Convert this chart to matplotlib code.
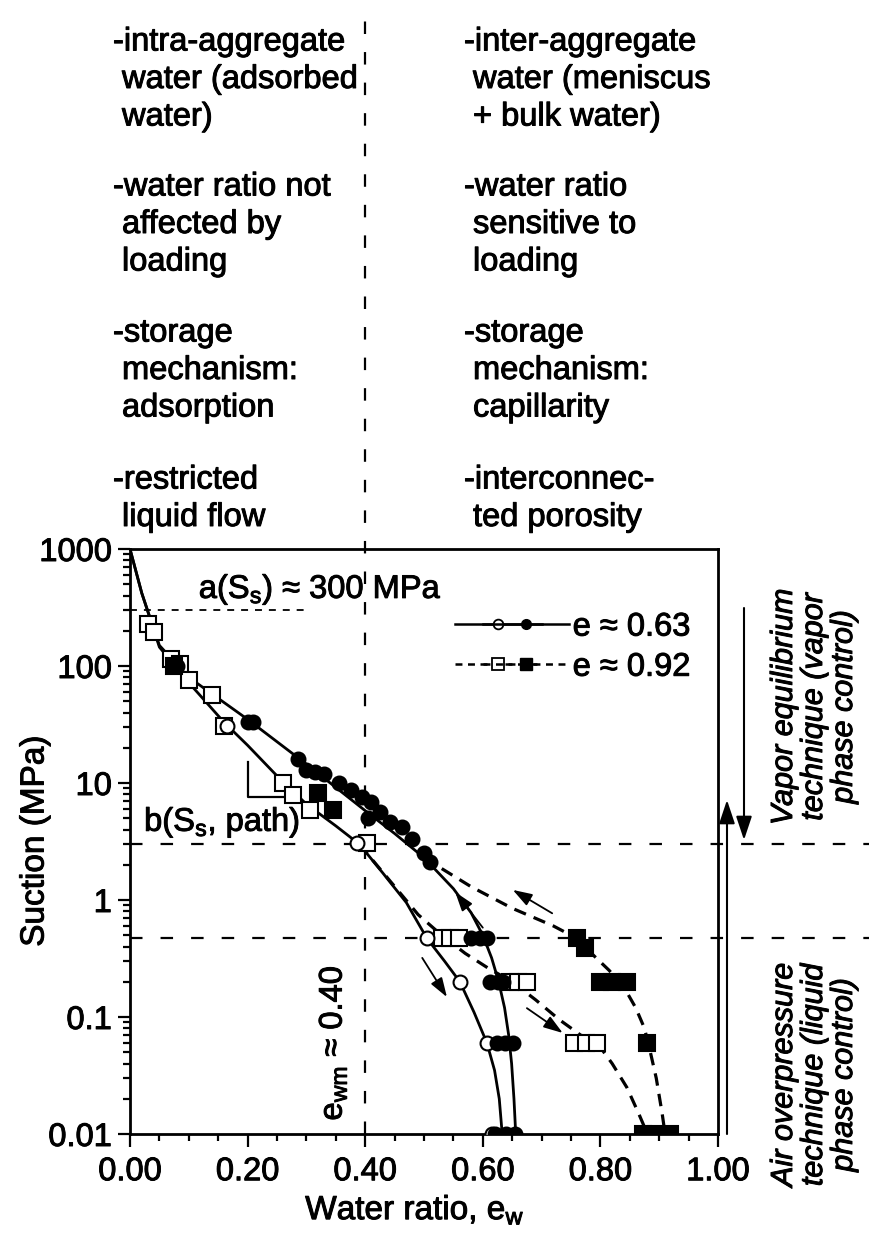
import matplotlib
matplotlib.use("Agg")
import matplotlib.pyplot as plt
import matplotlib.patheffects as pe
from matplotlib.lines import Line2D
from matplotlib.legend_handler import HandlerTuple
from matplotlib.ticker import MultipleLocator, LogLocator, NullFormatter

plt.rcParams['font.family'] = ['Liberation Sans', 'DejaVu Sans']
plt.rcParams['mathtext.fontset'] = 'custom'
plt.rcParams['mathtext.rm'] = 'Liberation Sans'
plt.rcParams['mathtext.it'] = 'Liberation Sans:italic'
plt.rcParams['lines.scale_dashes'] = False

# measured points, e ~ 0.63 (circles) and e ~ 0.92 (squares)
ew_063_dry = [0.08, 0.20, 0.21, 0.285, 0.30, 0.315, 0.33, 0.355, 0.375, 0.395, 0.41,
              0.405, 0.425, 0.443, 0.463, 0.48, 0.50, 0.51,
              0.58, 0.595, 0.607, 0.612, 0.625, 0.634, 0.624, 0.637, 0.651, 0.62, 0.64, 0.655]
s_063_dry = [100, 33, 33, 16, 13, 12.5, 12, 10, 8.7, 7.6, 6.9,
             5.0, 5.6, 4.6, 4.2, 3.3, 2.5, 2.1,
             0.47, 0.47, 0.47, 0.2, 0.2, 0.2, 0.06, 0.06, 0.06, 0.01, 0.01, 0.01]
ew_063_wet = [0.165, 0.386, 0.505, 0.561, 0.607, 0.615]
s_063_wet = [31, 3.1, 0.47, 0.2, 0.06, 0.01]
ew_092_wet = [0.03, 0.04, 0.07, 0.085, 0.10, 0.14, 0.16, 0.26, 0.277, 0.306, 0.403,
              0.53, 0.545, 0.56, 0.646, 0.66, 0.675, 0.755, 0.775, 0.795]
s_092_wet = [230, 195, 115, 105, 76, 57, 31, 10, 7.9, 5.9, 3.1,
             0.47, 0.47, 0.47, 0.2, 0.2, 0.2, 0.06, 0.06, 0.06]
ew_092_dry = [0.075, 0.32, 0.345, 0.76, 0.774, 0.80, 0.82, 0.845, 0.88, 0.872, 0.895, 0.918]
s_092_dry = [100, 8.2, 5.9, 0.47, 0.39, 0.2, 0.2, 0.2, 0.06, 0.01, 0.01, 0.01]

# model curves
ew_fit_063_dry = [0.0, 0.02, 0.05, 0.10, 0.20, 0.30, 0.40, 0.45, 0.50, 0.55, 0.58, 0.60,
                  0.615, 0.627, 0.637, 0.644, 0.649, 0.653, 0.656]
s_fit_063_dry = [1000, 420, 150, 80, 35, 14.5, 5.8, 3.7, 2.3, 1.25, 0.78, 0.5,
                 0.32, 0.2, 0.12, 0.07, 0.04, 0.02, 0.01]
ew_fit_063_wet = [0.0, 0.02, 0.05, 0.10, 0.16, 0.20, 0.25, 0.30, 0.35, 0.39, 0.43, 0.47,
                  0.505, 0.535, 0.561, 0.585, 0.607, 0.62, 0.628, 0.633]
s_fit_063_wet = [1000, 420, 145, 72, 33, 21, 11.5, 6.6, 4.3, 3.0, 1.7, 0.95,
                 0.47, 0.3, 0.2, 0.11, 0.06, 0.035, 0.02, 0.01]
ew_fit_092_wet = [0.39, 0.44, 0.49, 0.53, 0.57, 0.61, 0.65, 0.69, 0.73, 0.77, 0.80,
                  0.82, 0.845, 0.865, 0.88]
s_fit_092_wet = [3.0, 1.5, 0.75, 0.5, 0.35, 0.26, 0.2, 0.14, 0.095, 0.068, 0.055,
                 0.04, 0.025, 0.015, 0.01]
ew_fit_092_dry = [0.50, 0.58, 0.65, 0.72, 0.76, 0.79, 0.815, 0.84, 0.86, 0.875, 0.885,
                  0.895, 0.905, 0.91]
s_fit_092_dry = [2.3, 1.3, 0.85, 0.6, 0.47, 0.33, 0.25, 0.18, 0.12, 0.08, 0.05,
                 0.03, 0.015, 0.01]

# reference levels
s_a = 300
s_b = 3.0
s_liquid = 0.47
ew_wm = 0.40

# path arrows (tail ew, tail s, head ew, head s)
path_arrows = [(0.60, 0.58, 0.553, 1.17),
               (0.718, 0.77, 0.651, 1.22),
               (0.497, 0.32, 0.539, 0.148),
               (0.675, 0.119, 0.736, 0.073)]

x_ticks = [0.0, 0.2, 0.4, 0.6, 0.8, 1.0]
x_ticklabels = ['0.00', '0.20', '0.40', '0.60', '0.80', '1.00']
y_ticks = [0.01, 0.1, 1, 10, 100, 1000]
y_ticklabels = ['0.01', '0.1', '1', '10', '100', '1000']

left_notes = [["-intra-aggregate", "water (adsorbed", "water)"],
              ["-water ratio not", "affected by", "loading"],
              ["-storage", "mechanism:", "adsorption"],
              ["-restricted", "liquid flow"]]
right_notes = [["-inter-aggregate", "water (meniscus", "+ bulk water)"],
               ["-water ratio", "sensitive to", "loading"],
               ["-storage", "mechanism:", "capillarity"],
               ["-interconnec-", "ted porosity"]]

W, H = 869, 1238
FS = 23.5
# slightly heavier type, like the printed original
heavy = [pe.withStroke(linewidth=0.7, foreground='black')]


def fx(px):
    return px / W


def fy(py):
    return 1 - py / H


fig = plt.figure(figsize=(W / 100, H / 100), dpi=100)
fig.patch.set_facecolor('white')
ax = fig.add_axes([fx(130), fy(1134), 588 / W, 585 / H])
ax.set_yscale('log')
ax.set_xlim(0, 1)
ax.set_ylim(0.01, 1000)

# curves
ax.plot(ew_fit_063_dry, s_fit_063_dry, color='k', lw=2.0, zorder=3)
ax.plot(ew_fit_063_wet, s_fit_063_wet, color='k', lw=2.0, zorder=3)
ax.plot(ew_fit_092_wet, s_fit_092_wet, color='k', lw=2.3, dashes=(9, 6), zorder=3)
ax.plot(ew_fit_092_dry, s_fit_092_dry, color='k', lw=2.3, dashes=(9, 6), zorder=3)

# data points
ax.plot(ew_092_wet, s_092_wet, ls='none', marker='s', ms=11, mfc='white', mec='k', mew=1.5, zorder=4)
ax.plot(ew_092_dry, s_092_dry, ls='none', marker='s', ms=11, mfc='k', mec='k', mew=1.5, zorder=5)
ax.plot(ew_063_wet, s_063_wet, ls='none', marker='o', ms=10, mfc='white', mec='k', mew=1.5, zorder=4)
ax.plot(ew_063_dry, s_063_dry, ls='none', marker='o', ms=10, mfc='k', mec='k', mew=1.5, zorder=5)

# guide lines
guide = dict(color='k', lw=1.6, dashes=(9, 13), clip_on=False, zorder=1)
ax.plot([0, 1.26], [s_b, s_b], transform=ax.get_yaxis_transform(), **guide)
ax.plot([0, 1.26], [s_liquid, s_liquid], transform=ax.get_yaxis_transform(), **guide)
ax.plot([ew_wm, ew_wm], [0, 1.92], transform=ax.get_xaxis_transform(), **guide)
ax.plot([0, 0.3], [s_a, s_a], color='k', lw=1.3, dashes=(5, 5), zorder=1)

# slope mark
ax.plot([0.2, 0.2, 0.265], [15, 7.6, 7.6], color='k', lw=1.6)

# annotations
ax.text(0.117, 450, "a(S$_\\mathrm{s}$) \u2248 300 MPa", fontsize=FS, va='center', path_effects=heavy)
ax.text(0.024, 4.6, "b(S$_\\mathrm{s}$, path)", fontsize=FS, va='center', path_effects=heavy)
ax.text(0.345, 0.06, "e$_\\mathrm{wm}$ \u2248 0.40", fontsize=FS, rotation=90,
        ha='center', va='center', path_effects=heavy)

arrow_style = dict(arrowstyle='-|>,head_length=0.9,head_width=0.3', color='k', lw=1.3,
                   shrinkA=0, shrinkB=0, mutation_scale=13)
for x0, y0, x1, y1 in path_arrows:
    ax.annotate('', xy=(x1, y1), xytext=(x0, y0), arrowprops=arrow_style)

# legend
open_c = Line2D([], [], color='k', lw=1.8, marker='o', ms=7, mfc='white', mec='k', mew=1.3)
fill_c = Line2D([], [], color='k', lw=1.8, marker='o', ms=7, mfc='k', mec='k')
open_s = Line2D([], [], color='k', lw=1.8, dashes=(5, 4), marker='s', ms=8, mfc='white', mec='k', mew=1.3)
fill_s = Line2D([], [], color='k', lw=1.8, dashes=(5, 4), marker='s', ms=8, mfc='k', mec='k')
leg = ax.legend([(open_c, fill_c), (open_s, fill_s)], ["e \u2248 0.63", "e \u2248 0.92"],
                handler_map={tuple: HandlerTuple(ndivide=2, pad=-1.8)},
                loc='upper left', bbox_to_anchor=(0.553, 0.893), frameon=False,
                fontsize=FS, handlelength=3.5, handletextpad=0.1, labelspacing=0.28,
                borderpad=0, borderaxespad=0)
for t in leg.get_texts():
    t.set_path_effects(heavy)

# axes styling
ax.set_xticks(x_ticks)
ax.set_xticklabels(x_ticklabels)
ax.set_yticks(y_ticks)
ax.set_yticklabels(y_ticklabels)
ax.xaxis.set_minor_locator(MultipleLocator(0.05))
ax.yaxis.set_minor_locator(LogLocator(base=10, subs=range(2, 10), numticks=20))
ax.yaxis.set_minor_formatter(NullFormatter())
ax.tick_params(which='both', direction='out', width=1.6, labelsize=FS, top=False, right=False)
ax.tick_params(which='major', length=9)
ax.tick_params(which='minor', length=5)
ax.tick_params(axis='x', pad=7)
ax.tick_params(axis='y', pad=4)
for lbl in ax.get_xticklabels() + ax.get_yticklabels():
    lbl.set_path_effects(heavy)
for sp in ax.spines.values():
    sp.set_linewidth(2.0)

fig.text(fx(35), fy(841), "Suction (MPa)", rotation=90, ha='center', va='center', fontsize=24,
         path_effects=heavy)
fig.text(fx(415), fy(1210), "Water ratio, e$_\\mathrm{w}$", ha='center', va='center', fontsize=24,
         path_effects=heavy)

# control technique ranges on the right
arrow_side = dict(arrowstyle='-|>,head_length=1.2,head_width=0.4', color='k', lw=1.5,
                  shrinkA=0, shrinkB=0, mutation_scale=12)
ax.annotate('', xy=(fx(744), fy(840)), xytext=(fx(744), fy(608)), xycoords='figure fraction',
            textcoords='figure fraction', arrowprops=arrow_side, annotation_clip=False)
ax.annotate('', xy=(fx(727), fy(800)), xytext=(fx(727), fy(1134)), xycoords='figure fraction',
            textcoords='figure fraction', arrowprops=arrow_side, annotation_clip=False)
fig.text(fx(814), fy(707), "Vapor equilibrium\ntechnique (vapor\nphase control)", rotation=90,
         ha='center', va='center', multialignment='center', style='italic', fontsize=22,
         linespacing=1.0, path_effects=heavy)
fig.text(fx(814), fy(1075), "Air overpressure\ntechnique (liquid\nphase control)", rotation=90,
         ha='center', va='center', multialignment='center', style='italic', fontsize=22,
         linespacing=1.0, path_effects=heavy)

# notes above the chart
block_tops = [42, 187, 333, 480]
line_step = 37.5
for notes, x0 in ((left_notes, 113), (right_notes, 464)):
    for top, block in zip(block_tops, notes):
        for i, line in enumerate(block):
            fig.text(fx(x0 if i == 0 else x0 + 9), fy(top + i * line_step), line,
                     ha='left', va='center', fontsize=FS, path_effects=heavy)

fig.savefig("out.png", dpi=100, facecolor='white')
